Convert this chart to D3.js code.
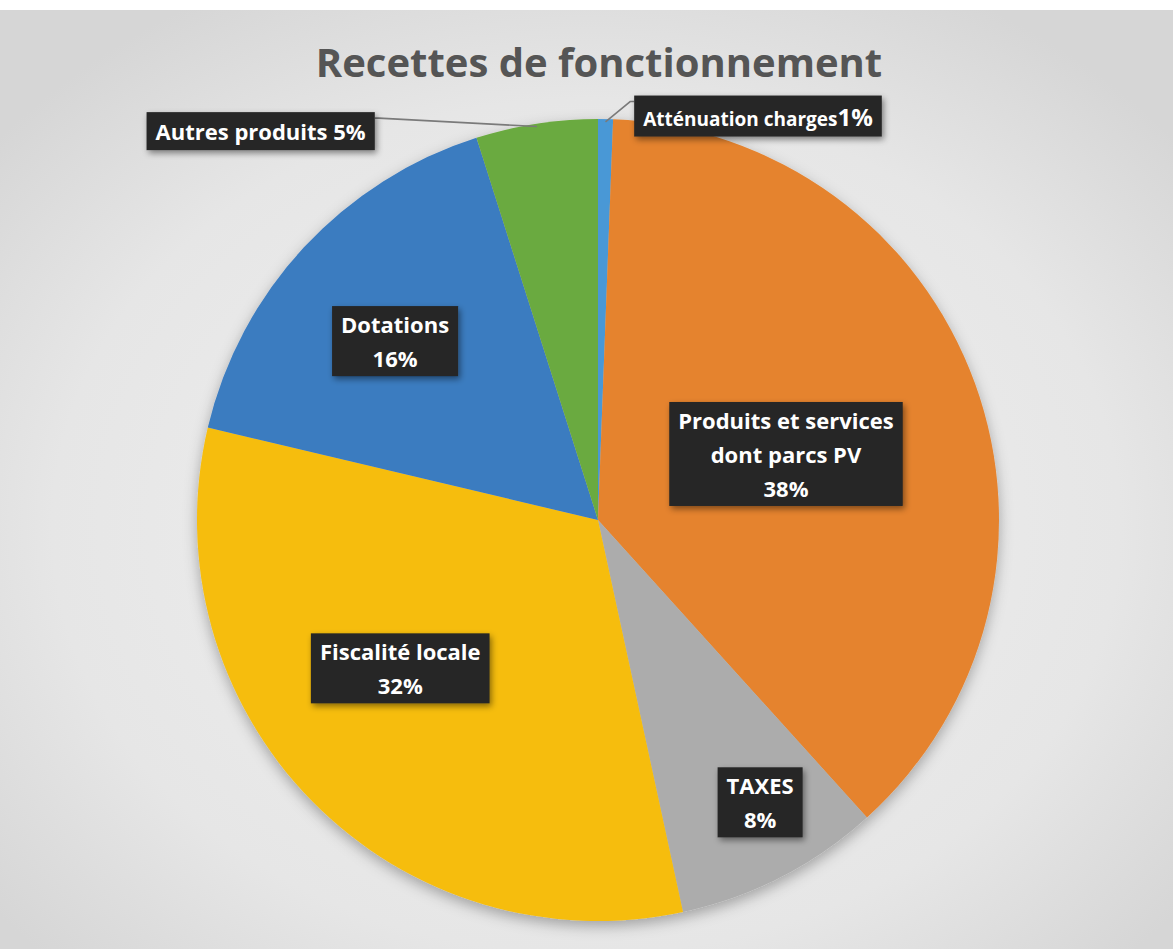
<!DOCTYPE html>
<html lang="fr">
<head>
<meta charset="UTF-8"/>
<title>Recettes de fonctionnement</title>
<script src="https://d3js.org/d3.v7.min.js"></script>
<style>
    body { margin: 0; background: #ffffff; }
    svg { display: block; }
</style>
</head>
<body>
<script>
    // Data (share of operating revenue, in %)
    var categories = ["Atténuation charges", "Produits et services dont parcs PV", "TAXES",
                      "Fiscalité locale", "Dotations", "Autres produits"];
    var values = [0.6, 37.7, 8.3, 32.1, 16.4, 4.9];
    var colours = ["#4a98d6", "#e5832e", "#acacac", "#f6bd0f", "#3a7bc0", "#6baa3f"];

    // How each label is written (lines of text, percent appended)
    var labelLines = [
        ["Atténuation charges"],
        ["Produits et services", "dont parcs PV"],
        ["TAXES"],
        ["Fiscalité locale"],
        ["Dotations"],
        ["Autres produits"]
    ];

    // Label placement: angle offset from slice middle (deg) and radius as fraction of R
    var labelAngle = [20.6, 0.9, -2.6, 7.4, -1.6, -32.2];
    var labelRadius = [1.08, 0.496, 0.814, 0.618, 0.673, 1.282];
    var outside = [true, false, false, false, false, true];

    var w = 1173;
    var h = 949;
    var cx = 598, cy = 520;
    var radius = 401;

    var svg = d3.select("body")
        .append("svg")
        .attr("width", w)
        .attr("height", h);

    var defs = svg.append("defs");

    // scanned paper background
    var bg = defs.append("radialGradient")
        .attr("id", "paper")
        .attr("cx", "50%").attr("cy", "55%").attr("r", "65%");
    bg.append("stop").attr("offset", "0%").attr("stop-color", "#f1f1f1");
    bg.append("stop").attr("offset", "70%").attr("stop-color", "#e6e6e6");
    bg.append("stop").attr("offset", "100%").attr("stop-color", "#d6d6d6");

    var pieShadow = defs.append("filter").attr("id", "pieShadow")
        .attr("x", "-10%").attr("y", "-10%").attr("width", "120%").attr("height", "125%");
    pieShadow.append("feDropShadow")
        .attr("dx", 0).attr("dy", 5).attr("stdDeviation", 7)
        .attr("flood-color", "#000").attr("flood-opacity", 0.3);

    var boxShadow = defs.append("filter").attr("id", "boxShadow")
        .attr("x", "-20%").attr("y", "-30%").attr("width", "140%").attr("height", "160%");
    boxShadow.append("feDropShadow")
        .attr("dx", 2).attr("dy", 3).attr("stdDeviation", 3)
        .attr("flood-color", "#000").attr("flood-opacity", 0.45);

    svg.append("rect")
        .attr("x", 0).attr("y", 10)
        .attr("width", w).attr("height", h - 10)
        .attr("fill", "url(#paper)");

    // Title
    svg.append("text")
        .attr("x", 599)
        .attr("y", 77)
        .attr("text-anchor", "middle")
        .attr("font-family", "'Open Sans', sans-serif")
        .attr("font-weight", 700)
        .attr("font-size", "40px")
        .attr("fill", "#555555")
        .text("Recettes de fonctionnement");

    // Pie
    var pie = d3.pie().sort(null).value(function(d) { return d; });
    var arcs = pie(values);

    var arc = d3.arc()
        .innerRadius(0)
        .outerRadius(radius);

    var g = svg.append("g")
        .attr("transform", "translate(" + cx + "," + cy + ")");

    g.append("g")
        .attr("filter", "url(#pieShadow)")
        .selectAll("path")
        .data(arcs)
        .enter()
        .append("path")
        .attr("fill", function(d, i) { return colours[i]; })
        .attr("d", arc);

    function polar(angle, r) {
        return [Math.sin(angle) * r, -Math.cos(angle) * r];
    }

    var pctFormat = function(v) { return Math.round(v) + "%"; };
    var lineH = 34;

    // Labels
    arcs.forEach(function(d, i) {
        var mid = (d.startAngle + d.endAngle) / 2;
        var pos = polar(mid + labelAngle[i] * Math.PI / 180, labelRadius[i] * radius);
        var lab = g.append("g").attr("class", "label");

        var box = lab.append("rect")
            .attr("fill", "#262626")
            .attr("filter", "url(#boxShadow)");

        var txt = lab.append("text")
            .attr("text-anchor", "middle")
            .attr("font-family", "'Open Sans', sans-serif")
            .attr("font-weight", 700)
            .attr("fill", "#ffffff");

        if (outside[i]) {
            // single line "name xx%"
            var t = txt.attr("x", pos[0]).attr("y", pos[1] + 8);
            if (i === 0) {
                t.append("tspan").attr("font-size", "19px").text(labelLines[i][0]);
                t.append("tspan").attr("font-size", "24px").text(pctFormat(values[i]));
            } else {
                t.attr("font-size", "22px").text(labelLines[i][0] + " " + pctFormat(values[i]));
            }
        } else {
            var lines = labelLines[i].concat([pctFormat(values[i])]);
            var top = pos[1] - (lines.length - 1) * lineH / 2 + 8;
            txt.attr("font-size", "22px");
            lines.forEach(function(l, k) {
                txt.append("tspan")
                    .attr("x", pos[0])
                    .attr("y", top + k * lineH)
                    .text(l);
            });
        }

        var bb = txt.node().getBBox();
        var padX = 9, padY = outside[i] ? 4 : 3;
        box.attr("x", bb.x - padX)
            .attr("y", bb.y - padY)
            .attr("width", bb.width + 2 * padX)
            .attr("height", bb.height + 2 * padY);

        if (outside[i]) {
            var end = polar(mid, radius * 0.993);
            var attachY = bb.y - padY + 6;
            var sideX = pos[0] < end[0] ? bb.x + bb.width + padX : bb.x - padX;
            var elbowX = pos[0] < end[0] ? sideX + 4 : sideX - 4;
            g.insert("path", ".label")
                .attr("d", "M" + sideX + "," + attachY + "L" + elbowX + "," + attachY + "L" + end[0] + "," + end[1])
                .attr("fill", "none")
                .attr("stroke", "#7a7a7a")
                .attr("stroke-width", 1.6);
        }
    });
</script>
</body>
</html>
